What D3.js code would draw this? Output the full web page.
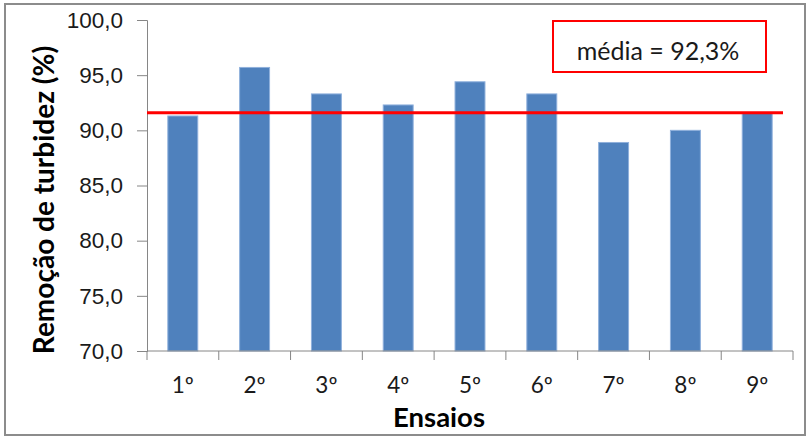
<!DOCTYPE html>
<html>
<head>
<meta charset="utf-8">
<script src="https://cdn.jsdelivr.net/npm/d3@7"></script>
<style>
  html, body { margin: 0; padding: 0; background: #fff; }
  svg { display: block; font-family: Lato, "Open Sans", sans-serif; }
</style>
</head>
<body>
<svg id="chart" width="810" height="437"></svg>
<script>
// data
const ensaios  = ['1º', '2º', '3º', '4º', '5º', '6º', '7º', '8º', '9º'];
const remocao  = [91.3, 95.7, 93.3, 92.3, 94.4, 93.3, 88.9, 90.0, 91.6];
const yTicks   = [70, 75, 80, 85, 90, 95, 100];
const linhaMedia = 91.6;
const rotuloMedia = 'média = 92,3%';

const svg = d3.select('#chart');
const plotL = 147, plotR = 793, plotT = 20, plotB = 351;

// outer frame
svg.append('rect')
  .attr('x', 5).attr('y', 4).attr('width', 800).attr('height', 431)
  .attr('fill', 'none').attr('stroke', '#8c8c8c').attr('stroke-width', 2);

const x = d3.scaleBand().domain(ensaios).range([plotL, plotR]).paddingInner(0.583).paddingOuter(0.29);
const y = d3.scaleLinear().domain([70, 100]).range([plotB, plotT]);

// bars
svg.selectAll('.bar')
  .data(remocao)
  .enter().append('rect')
    .attr('class', 'bar')
    .attr('x', (d, i) => x(ensaios[i]))
    .attr('y', d => y(d))
    .attr('width', x.bandwidth())
    .attr('height', d => plotB - y(d))
    .attr('fill', '#4f81bd')
    .attr('stroke', '#8fb0dc')
    .attr('stroke-width', 1);

// y axis
const yAxis = svg.append('g')
  .attr('transform', `translate(${plotL},0)`)
  .call(d3.axisLeft(y).tickValues(yTicks).tickSize(10).tickPadding(14)
    .tickFormat(d => d3.format('.1f')(d).replace('.', ',')));
yAxis.select('.domain').attr('stroke', '#868686');
yAxis.selectAll('.tick line').attr('stroke', '#868686');
yAxis.selectAll('text').attr('fill', '#1a1a1a').style('font-size', '22.5px');

// x axis, ticks on the band boundaries
const xAxis = svg.append('g').attr('transform', `translate(0,${plotB})`);
xAxis.append('line')
  .attr('x1', plotL).attr('x2', plotR).attr('y1', 0).attr('y2', 0)
  .attr('stroke', '#868686');
xAxis.selectAll('.xt')
  .data(d3.range(ensaios.length + 1))
  .enter().append('line')
    .attr('x1', i => plotL + i * (plotR - plotL) / ensaios.length)
    .attr('x2', i => plotL + i * (plotR - plotL) / ensaios.length)
    .attr('y1', 0).attr('y2', 9)
    .attr('stroke', '#868686');
xAxis.selectAll('.xl')
  .data(ensaios)
  .enter().append('text')
    .attr('x', d => x(d) + x.bandwidth() / 2)
    .attr('y', 42)
    .attr('text-anchor', 'middle')
    .attr('fill', '#1a1a1a')
    .style('font-size', '22.5px')
    .text(d => d);

// mean line
svg.append('line')
  .attr('x1', plotL).attr('x2', 783)
  .attr('y1', y(linhaMedia)).attr('y2', y(linhaMedia))
  .attr('stroke', '#ff0000').attr('stroke-width', 3);

// label box
svg.append('rect')
  .attr('x', 553).attr('y', 21).attr('width', 213).attr('height', 51)
  .attr('fill', '#fff').attr('stroke', '#ff0000').attr('stroke-width', 2);
svg.append('text')
  .attr('x', 658).attr('y', 60)
  .attr('text-anchor', 'middle')
  .attr('fill', '#1a1a1a')
  .style('font-size', '25px')
  .text(rotuloMedia);

// axis titles
svg.append('text')
  .attr('transform', 'translate(54,200) rotate(-90)')
  .attr('text-anchor', 'middle')
  .style('font-size', '28px').style('font-weight', 'bold')
  .attr('fill', '#000')
  .text('Remoção de turbidez (%)');
svg.append('text')
  .attr('x', 439).attr('y', 427)
  .attr('text-anchor', 'middle')
  .style('font-size', '27.5px').style('font-weight', 'bold')
  .attr('fill', '#000')
  .text('Ensaios');
</script>
</body>
</html>
